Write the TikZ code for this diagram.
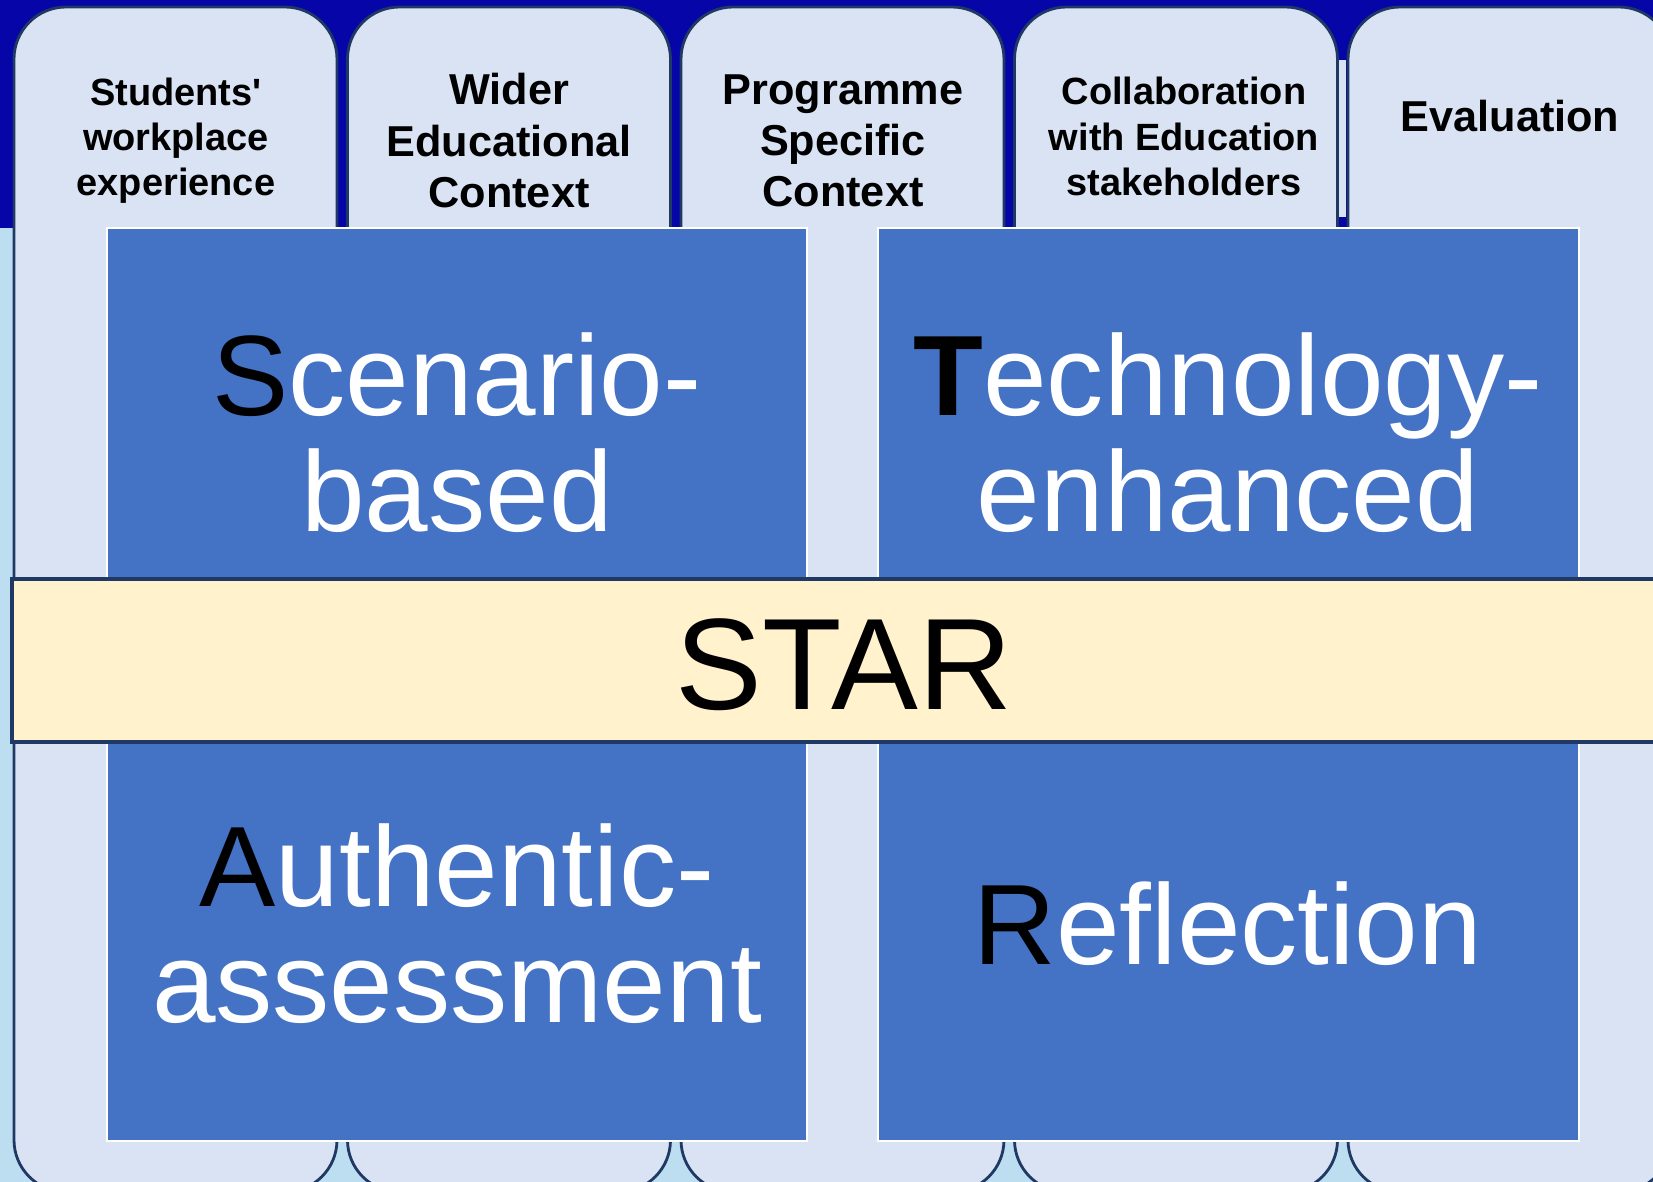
\documentclass[tikz,border=0pt]{standalone}
\usepackage{fontspec}
\setmainfont{Liberation Sans}
\usetikzlibrary{positioning}

\definecolor{topblue}{HTML}{0505A8}
\definecolor{skyblue}{HTML}{BDDEF0}
\definecolor{pillarfill}{HTML}{DAE3F3}
\definecolor{navyline}{HTML}{1F3864}
\definecolor{starblue}{HTML}{4472C4}
\definecolor{bandcream}{HTML}{FFF2CC}

\tikzset{
  pillar/.style={fill=pillarfill, draw=navyline, line width=0.8pt, rounded corners=0.52cm},
  quad/.style={fill=starblue, draw=white, line width=0.8pt},
  pillarsmall/.style={inner sep=0pt, align=center, font=\fontsize{10.8}{12.9}\selectfont\bfseries},
  pillarbig/.style={inner sep=0pt, align=center, font=\fontsize{12.3}{14.6}\selectfont\bfseries},
  quadtext/.style={inner sep=0pt, align=center, text=white, font=\fontsize{32.5}{33}\selectfont},
}
\newcommand{\firstletter}[1]{\textcolor{black}{#1}}

\begin{document}
\begin{tikzpicture}[x=0.01cm, y=-0.01cm]
    \useasboundingbox (0,0) rectangle (1653,1182);
    \clip (0,0) rectangle (1653,1182);
    % background
    \fill[skyblue] (0,0) rectangle (1653,1182);
    \fill[topblue] (0,0) rectangle (1653,228);
    % five pillars
    \foreach \i in {0,...,4}
        \draw[pillar] ({14+333.5*\i},7) rectangle ({337+333.5*\i},1192);
    \fill[pillarfill] (1339,60) rectangle (1346,217);
    % pillar titles
    \node[pillarsmall] (workplace) at (176,140.6) {Students\textquotesingle\\workplace\\experience};
    \node[pillarbig] (wider) at (509,140.7) {Wider\\Educational\\Context};
    \node[pillarbig] (programme) at (843,140.7) {Programme\\Specific\\Context};
    \node[pillarsmall] (collab) at (1184,136.7) {Collaboration\\with Education\\stakeholders};
    \node[pillarbig] (evaluation) at (1510,116) {Evaluation};
    % the four quadrants
    \draw[quad] (107,228) rectangle (807,685);
    \draw[quad] (878,228) rectangle (1579,685);
    \draw[quad] (107,685) rectangle (807,1141);
    \draw[quad] (878,685) rectangle (1579,1141);
    \node[quadtext] (scenario) at (457,432.5) {\firstletter{S}cenario-\\based};
    \node[quadtext] (technology) at (1228,433) {\firstletter{\bfseries T}echnology-\\enhanced};
    \node[quadtext] (authentic) at (457,923.5) {\firstletter{A}uthentic-\\assessment};
    \node[quadtext] (reflection) at (1228,923.5) {\firstletter{R}eflection};
    % central band
    \draw[fill=bandcream, draw=navyline, line width=1pt] (12,579) rectangle (1680,742);
    \node[inner sep=0pt, font=\fontsize{37}{40}\selectfont] (star) at (844,665) {STAR};
\end{tikzpicture}
\end{document}
